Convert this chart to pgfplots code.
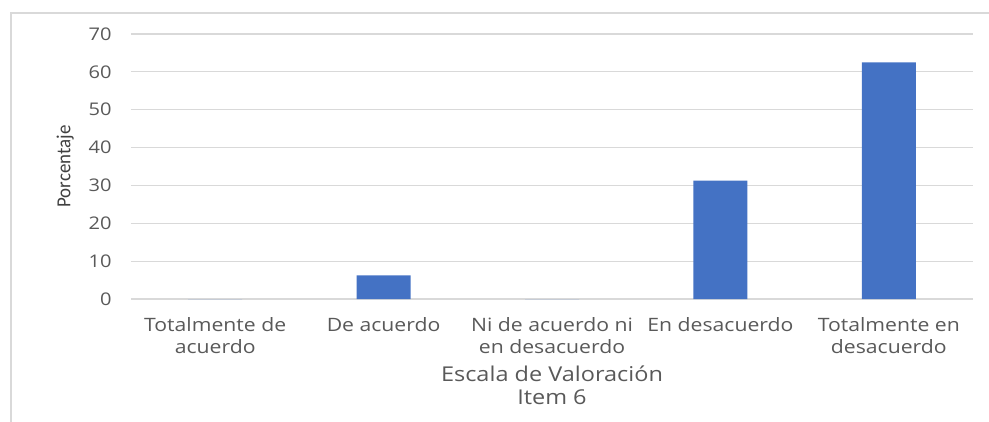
\documentclass[border=0pt]{standalone}
\usepackage{pgfplots}
\pgfplotsset{compat=1.18}
\usepackage{fontspec}
\setmainfont[FakeStretch=1.15]{Open Sans}
\newfontfamily\labelfont[FakeStretch=0.95]{Carlito}
\definecolor{barblue}{HTML}{4472C4}
\definecolor{txtgray}{HTML}{595959}
\definecolor{ylabgray}{HTML}{404040}
\definecolor{gridgray}{HTML}{D9D9D9}
\begin{document}
\begin{tikzpicture}
\useasboundingbox (-131bp,-123bp) rectangle (858bp,299bp);
\draw[gridgray, line width=1.2bp] (-120bp,-123bp) -- (-120bp,286bp) -- (858bp,286bp);
\begin{axis}[
    scale only axis,
    width=842bp, height=265bp,
    at={(0,0)}, anchor=south west,
    ybar, bar width=54bp,
    xmin=-0.5, xmax=4.5,
    ymin=0, ymax=70,
    ytick={0,10,...,70},
    xtick={0,1,2,3,4},
    xticklabels={Totalmente de\\acuerdo, De acuerdo, Ni de acuerdo ni\\en desacuerdo, En desacuerdo, Totalmente en\\desacuerdo},
    x tick label style={align=center, font=\fontsize{18.5}{22}\selectfont, text=txtgray, yshift=-15bp},
    y tick label style={font=\fontsize{17.5}{22}\selectfont, text=txtgray, xshift=-16bp},
    /pgf/number format/assume math mode=true,
    major tick length=0pt,
    axis line style={draw=none},
    axis x line*=bottom,
    ymajorgrids,
    grid style={gridgray, line width=1.2bp},
    xlabel={Escala de Valoración\\Item 6},
    xlabel style={align=center, font=\fontsize{20.5}{23}\selectfont, text=txtgray, yshift=-5bp},
    ylabel={Porcentaje},
    ylabel style={font=\labelfont\fontsize{20}{22}\selectfont, text=ylabgray, yshift=8bp},
]
\addplot[fill=barblue, draw=none] coordinates {(0,0) (1,6.25) (2,0) (3,31.25) (4,62.5)};
\end{axis}
\end{tikzpicture}
\end{document}
